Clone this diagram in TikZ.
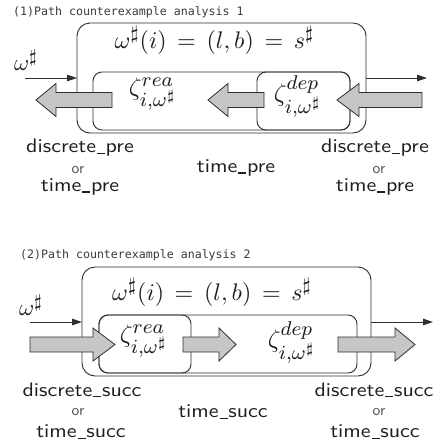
\RequirePackage{fix-cm}
\documentclass[tikz,border=0pt]{standalone}
\usepackage{fontspec}
\newfontfamily\ttlfont{DejaVu Sans Mono}
\usetikzlibrary{arrows.meta}
\DeclareMathSizes{10}{10}{8}{6}
\definecolor{linec}{HTML}{2E2E2E}
\definecolor{arrfill}{HTML}{C6C6C6}
\definecolor{txtc}{HTML}{1E1E1E}
\definecolor{orc}{HTML}{505050}
\definecolor{ttlc}{HTML}{3A3A3A}
\tikzset{
 boxst/.style={draw=linec, line width=0.9pt, inner sep=0pt, outer sep=0pt},
 blkst/.style={draw=linec, fill=arrfill, line width=0.8pt, line join=miter},
 conn/.style={draw=linec, line width=0.8pt, -{Triangle[length=10pt,width=6.5pt]}},
 lab/.style={font=\sffamily, text=txtc, inner sep=0pt},
 orlab/.style={font=\sffamily, text=orc, inner sep=0pt},
 mth/.style={text=txtc, inner sep=0pt},
 ttl/.style={font=\ttlfont\fontsize{11.6}{13}\selectfont, text=ttlc, inner sep=0pt, anchor=west},
}
\newcommand\us{\kern0.04em\rule[-0.06em]{0.36em}{0.075em}\kern0.04em}
\newcommand\bigsf[1]{\scalebox{2.2}[1.95]{#1}}
\newcommand\smsf[1]{\scalebox{1.55}{#1}}
\newcommand\mkbox[6]{\node[boxst, rounded corners=#6, minimum width={(#4)-(#2)}, minimum height={(#5)-(#3)}] (#1) at ({((#2)+(#4))/2},{((#3)+(#5))/2}) {};}
\newcommand\blkarrow[4]{\draw[blkst] ({#1},{#4-7.5}) -- ({#2},{#4-7.5}) -- ({#2},{#4-16.5}) -- ({#3},{#4}) -- ({#2},{#4+16.5}) -- ({#2},{#4+7.5}) -- ({#1},{#4+7.5}) -- cycle;}
\begin{document}
\begin{tikzpicture}[x=1pt,y=-1pt]
\fill[white] (0,0) rectangle (444,445);
\useasboundingbox (0,0) rectangle (444,445);
% ---------- panel 1 ----------
\node[ttl] (t1) at (13,12) {(1)Path counterexample analysis 1};
\mkbox{outer1}{77}{23}{366}{133}{13pt}
\mkbox{wide1}{93}{72}{350}{130}{9pt}
\mkbox{dep1}{257}{72}{350}{130}{9pt}
\node[mth, anchor=base] (eq1) at (214.5,48) {\scalebox{2.4}{$\omega^\sharp(i)\,=\,(l,b)\,=\,s^\sharp$}};
\node[mth] (w1) at (26,60) {\scalebox{2.3}{$\omega^\sharp$}};
\coordinate (in1) at (25,78);
\coordinate (out1) at (427,78);
\draw[conn] (in1) -- (in1 -| outer1.west);
\draw[conn] (out1 -| outer1.east) -- (out1);
\blkarrow{112}{56}{36}{100}
\blkarrow{264}{228}{208}{100}
\blkarrow{422}{359}{337}{100}
\node[mth] (zr1) at (153,94) {\scalebox{2.5}{$\zeta^{rea}_{i,\omega^\sharp}$}};
\node[mth] (zd1) at (298,96) {\scalebox{2.5}{$\zeta^{dep}_{i,\omega^\sharp}$}};
\node[lab] (l1a) at (80,148) {\bigsf{discrete\us pre}};
\node[orlab] (l1b) at (78,170) {\smsf{or}};
\node[lab] (l1c) at (80,187) {\bigsf{time\us pre}};
\node[lab] (l1d) at (236,168) {\bigsf{time\us pre}};
\node[lab] (l1e) at (375,148) {\bigsf{discrete\us pre}};
\node[orlab] (l1f) at (379,170) {\smsf{or}};
\node[lab] (l1g) at (375,187) {\bigsf{time\us pre}};
% ---------- panel 2 ----------
\node[ttl] (t2) at (20,255) {(2)Path counterexample analysis 2};
\mkbox{outer2}{82}{267}{371}{376}{13pt}
\mkbox{wide2}{99}{315}{357}{373}{9pt}
\mkbox{rea2}{99}{315}{191}{373}{9pt}
\node[mth, anchor=base] (eq2) at (212,300) {\scalebox{2.4}{$\omega^\sharp(i)\,=\,(l,b)\,=\,s^\sharp$}};
\node[mth] (w2) at (31,305) {\scalebox{2.3}{$\omega^\sharp$}};
\coordinate (in2) at (30,322);
\coordinate (out2) at (433,322);
\draw[conn] (in2) -- (in2 -| outer2.west);
\draw[conn] (out2 -| outer2.east) -- (out2);
\blkarrow{30}{93}{115}{344.5}
\blkarrow{183}{219}{236}{344.5}
\blkarrow{338}{395}{415}{344.5}
\node[mth] (zr2) at (144,341) {\scalebox{2.5}{$\zeta^{rea}_{i,\omega^\sharp}$}};
\node[mth] (zd2) at (292,342) {\scalebox{2.5}{$\zeta^{dep}_{i,\omega^\sharp}$}};
\node[lab] (l2a) at (82,390) {\bigsf{discrete\us succ}};
\node[orlab] (l2b) at (78,412) {\smsf{or}};
\node[lab] (l2c) at (81,432) {\bigsf{time\us succ}};
\node[lab] (l2d) at (223,412) {\bigsf{time\us succ}};
\node[lab] (l2e) at (374,390) {\bigsf{discrete\us succ}};
\node[orlab] (l2f) at (379,412) {\smsf{or}};
\node[lab] (l2g) at (375,432) {\bigsf{time\us succ}};
\end{tikzpicture}
\end{document}
